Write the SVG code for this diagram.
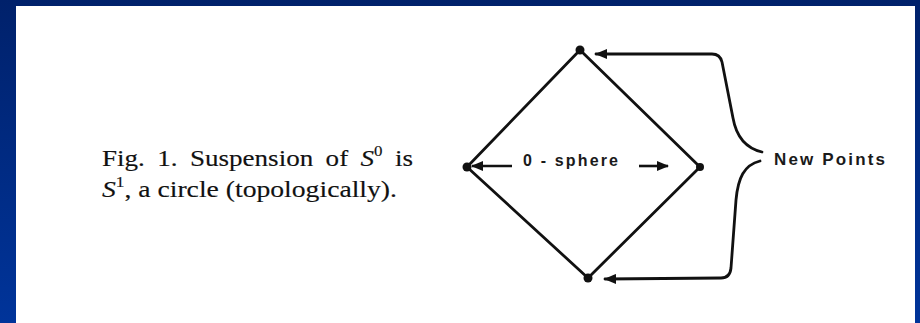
<svg xmlns="http://www.w3.org/2000/svg" width="920" height="323" viewBox="0 0 920 323">
  <defs>
    <linearGradient id="bg" x1="0" y1="0" x2="0" y2="1">
      <stop offset="0" stop-color="#00216b"/>
      <stop offset="1" stop-color="#00349a"/>
    </linearGradient>
    <marker id="ah" viewBox="0 0 12 10" refX="11" refY="5" markerWidth="12" markerHeight="10" markerUnits="userSpaceOnUse" orient="auto">
      <path d="M0,0 L12,5 L0,10 Z" fill="#111"/>
    </marker>
    <style>
      .ln { fill: none; stroke: #111; stroke-width: 2.8; stroke-linejoin: round; stroke-linecap: round; }
      .ar { fill: none; stroke: #111; stroke-width: 2.6; }
      .dot { fill: #111; }
      .cap { font-family: "Liberation Serif", "Times New Roman", serif; font-size: 24px; fill: #111; stroke: #111; stroke-width: 0.15; }
      .lab { font-family: "Liberation Sans", Arial, sans-serif; font-weight: bold; fill: #1a1a1a; }
    </style>
  </defs>
  <rect x="0" y="0" width="920" height="323" fill="url(#bg)"/>
  <rect x="16" y="6" width="899" height="317" fill="#ffffff"/>

  <g id="caption">
    <text class="cap" x="102" y="166" textLength="311" lengthAdjust="spacingAndGlyphs" word-spacing="5">Fig. 1. Suspension of <tspan font-style="italic">S</tspan><tspan font-size="15" dy="-10">0</tspan><tspan dy="10"> is</tspan></text>
    <text class="cap" x="102" y="197" textLength="295" lengthAdjust="spacingAndGlyphs"><tspan font-style="italic">S</tspan><tspan font-size="15" dy="-10">1</tspan><tspan dy="10">, a circle (topologically).</tspan></text>
  </g>

  <g id="circle">
    <path class="ln" d="M580 50 L700 167 L588 278 L467 167 Z"/>
  </g>
  <g id="point-top"><circle class="dot" cx="580" cy="50" r="4.5"/></g>
  <g id="point-bottom"><circle class="dot" cx="588" cy="278" r="4.5"/></g>
  <g id="point-left"><circle class="dot" cx="467" cy="167" r="4.5"/></g>
  <g id="point-right"><circle class="dot" cx="700" cy="167" r="4"/></g>

  <g id="zero-sphere">
    <text class="lab" x="523" y="166" font-size="16" textLength="95" lengthAdjust="spacing">0 - sphere</text>
  </g>
  <g id="new-points">
    <text class="lab" x="774" y="165" font-size="17" textLength="111" lengthAdjust="spacing">New Points</text>
  </g>

  <g id="connectors">
    <line class="ar" x1="512" y1="166" x2="472" y2="166" marker-end="url(#ah)"/>
    <line class="ar" x1="639" y1="166" x2="668" y2="166" marker-end="url(#ah)"/>
    <path class="ln" d="M762 152 C745 148 736 135 733 118 L722 62 Q720 54 712 54 L596 54" marker-end="url(#ah)"/>
    <path class="ln" d="M760 161 C744 165 738 178 736 200 L731 268 Q730 278 721 278 L605 279" marker-end="url(#ah)"/>
  </g>
</svg>
